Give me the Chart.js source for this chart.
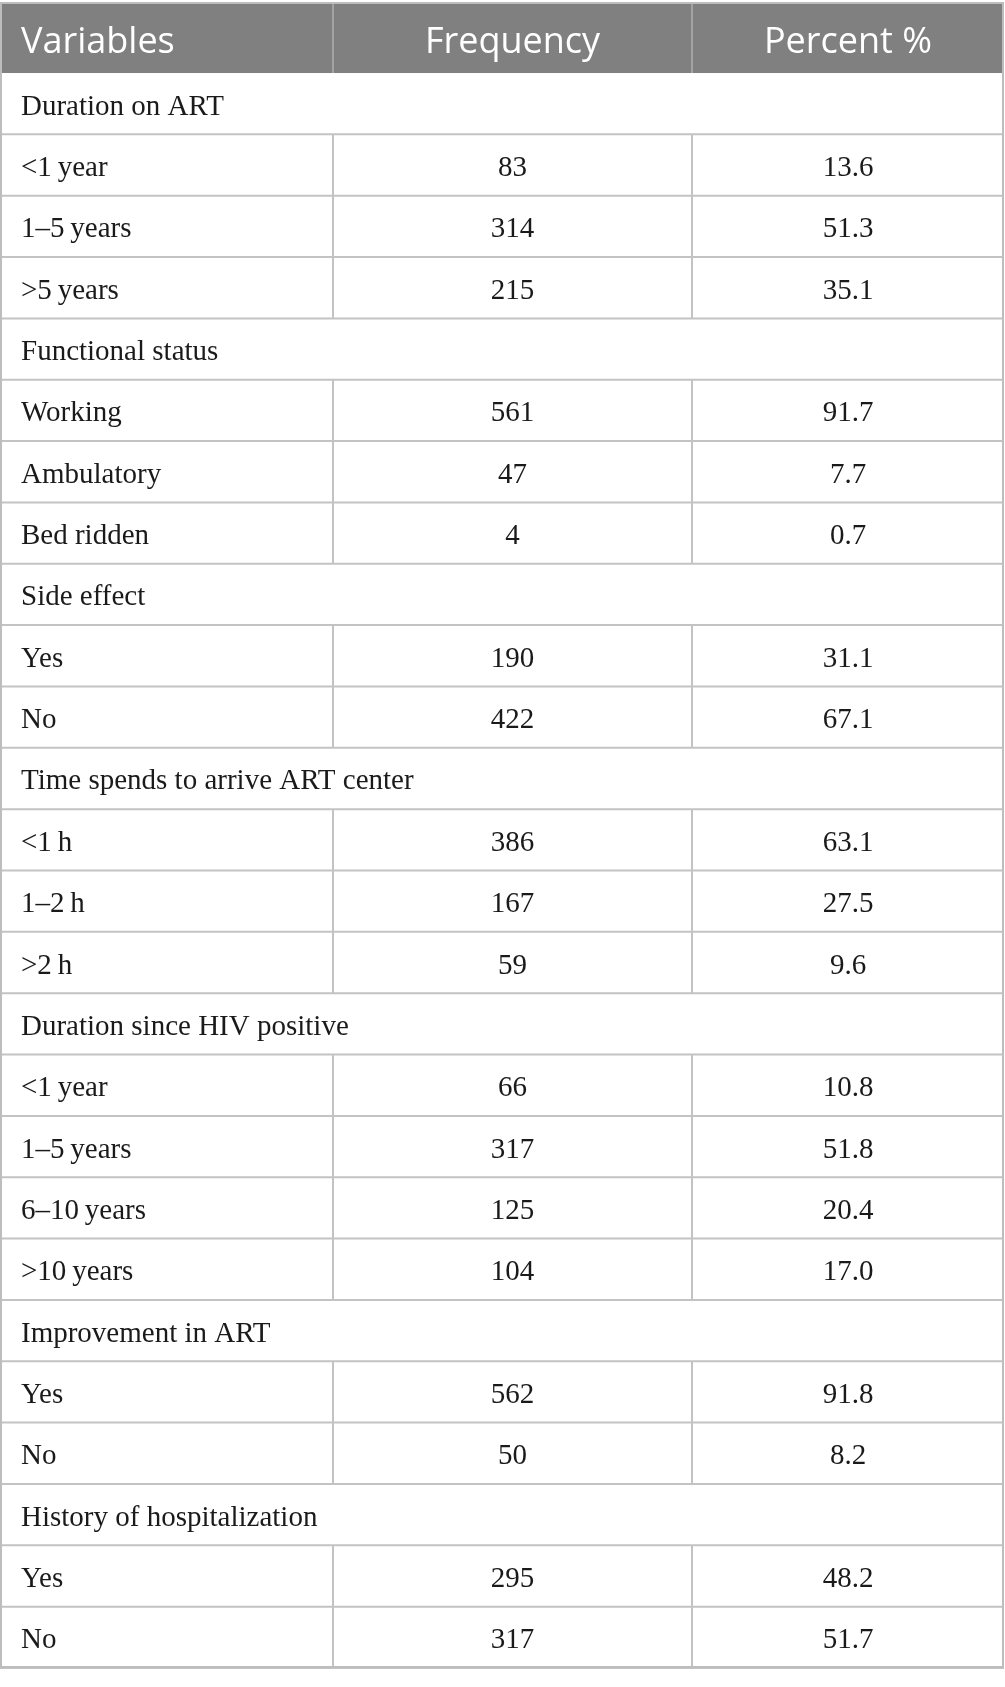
<!DOCTYPE html>
<html>
<head>
<meta charset="utf-8">
<script src="https://cdn.jsdelivr.net/npm/chart.js@4.4.1/dist/chart.umd.min.js"></script>
<style>
  html, body { margin: 0; padding: 0; background: #fff; }
  #wrap { width: 1005px; height: 1687px; position: relative; }
</style>
</head>
<body>
<div id="wrap"><canvas id="tableChart"></canvas></div>
<script>
const headers = ["Variables", "Frequency", "Percent %"];

// null frequency = section heading row spanning the whole table
const variables = [
  "Duration on ART", "<1\u2009year", "1\u20135\u2009years", ">5\u2009years",
  "Functional status", "Working", "Ambulatory", "Bed ridden",
  "Side effect", "Yes", "No",
  "Time spends to arrive ART center", "<1\u2009h", "1\u20132\u2009h", ">2\u2009h",
  "Duration since HIV positive", "<1\u2009year", "1\u20135\u2009years", "6\u201310\u2009years", ">10\u2009years",
  "Improvement in ART", "Yes", "No",
  "History of hospitalization", "Yes", "No"
];
const frequency = [
  null, 83, 314, 215,
  null, 561, 47, 4,
  null, 190, 422,
  null, 386, 167, 59,
  null, 66, 317, 125, 104,
  null, 562, 50,
  null, 295, 317
];
const percent = [
  null, 13.6, 51.3, 35.1,
  null, 91.7, 7.7, 0.7,
  null, 31.1, 67.1,
  null, 63.1, 27.5, 9.6,
  null, 10.8, 51.8, 20.4, 17.0,
  null, 91.8, 8.2,
  null, 48.2, 51.7
];

// layout: column edges on the x scale, header height in row units
const colEdges = [0, 333, 692, 1004];
const HEAD = 1.125;

const tablePlugin = {
  id: "tableCells",
  beforeDatasetsDraw(chart) {
    const { ctx, scales: { x, y } } = chart;
    const X = colEdges.map(v => x.getPixelForValue(v));
    const top = y.getPixelForValue(-HEAD);
    const headBottom = y.getPixelForValue(0);
    const line = (x0, y0, x1, y1) => {
      ctx.beginPath(); ctx.moveTo(x0, y0); ctx.lineTo(x1, y1); ctx.stroke();
    };
    ctx.save();

    // header band
    ctx.fillStyle = "#7f807f";
    ctx.fillRect(X[0], top, X[3] - X[0], headBottom - top);
    ctx.strokeStyle = "#a2a3a2";
    ctx.lineWidth = 2;
    line(X[1], top, X[1], headBottom);
    line(X[2], top, X[2], headBottom);

    ctx.fillStyle = "#ffffff";
    ctx.font = "36px 'Open Sans'";
    ctx.textBaseline = "alphabetic";
    const hb = top + 49;
    ctx.textAlign = "left";
    ctx.fillText(headers[0], X[0] + 21, hb);
    ctx.textAlign = "center";
    ctx.fillText(headers[1], (X[1] + X[2]) / 2, hb);
    ctx.fillText(headers[2], (X[2] + X[3]) / 2, hb);

    // body rows
    ctx.font = "29px 'Liberation Serif'";
    variables.forEach((label, i) => {
      const y0 = y.getPixelForValue(i);
      const y1 = y.getPixelForValue(i + 1);
      const base = (y0 + y1) / 2 + 11;

      ctx.strokeStyle = "#c3c3c3";
      ctx.lineWidth = 2;
      line(X[0], y1, X[3], y1);

      ctx.fillStyle = "#1a1a1a";
      ctx.textAlign = "left";
      ctx.fillText(label, X[0] + 21, base);

      if (frequency[i] !== null) {
        line(X[1], y0, X[1], y1);
        line(X[2], y0, X[2], y1);
        ctx.textAlign = "center";
        ctx.fillText(String(frequency[i]), (X[1] + X[2]) / 2, base);
        ctx.fillText(percent[i].toFixed(1), (X[2] + X[3]) / 2, base);
      }
    });

    // outer border
    const bottom = y.getPixelForValue(variables.length);
    ctx.strokeStyle = "#bdbdbd";
    ctx.lineWidth = 2;
    ctx.strokeRect(X[0] + 1, top - 1, X[3] - X[0] - 2, bottom - top);
    ctx.restore();
  }
};

new Chart(document.getElementById("tableChart"), {
  type: "scatter",
  data: { datasets: [{ data: [], pointRadius: 0 }] },
  options: {
    responsive: true,
    maintainAspectRatio: false,
    animation: false,
    events: [],
    layout: { padding: { left: 0, right: 1, top: 4, bottom: 19 } },
    plugins: { legend: { display: false }, tooltip: { enabled: false } },
    scales: {
      x: { type: "linear", min: colEdges[0], max: colEdges[3], display: false },
      y: { type: "linear", min: -HEAD, max: variables.length, reverse: true, display: false }
    }
  },
  plugins: [tablePlugin]
});
</script>
</body>
</html>
